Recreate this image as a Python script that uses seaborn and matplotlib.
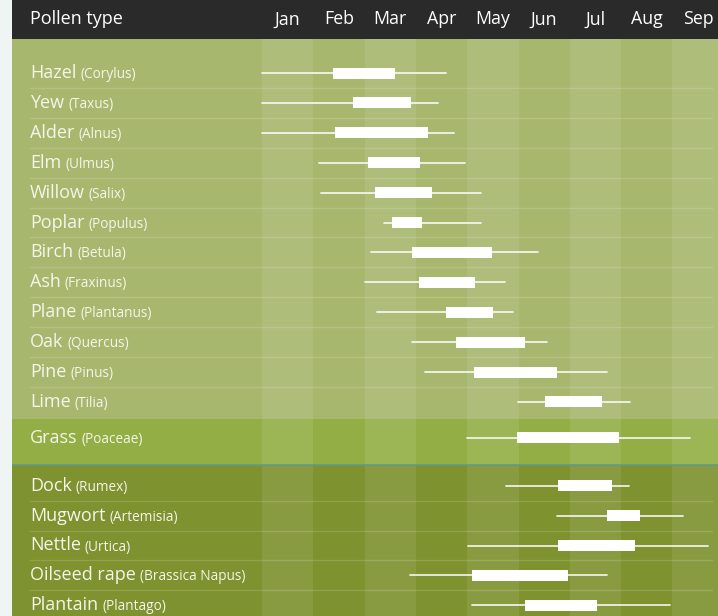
import numpy as np
import pandas as pd
import matplotlib
matplotlib.use("Agg")
import matplotlib.pyplot as plt
import seaborn as sns

sns.set_style("white")
plt.rcParams['font.family'] = ['Open Sans', 'DejaVu Sans']

# 데이터 (월 단위, 0 = 1월 시작)
months = ['Jan', 'Feb', 'Mar', 'Apr', 'May', 'Jun', 'Jul', 'Aug', 'Sep']

trees = ['Hazel', 'Yew', 'Alder', 'Elm', 'Willow', 'Poplar', 'Birch', 'Ash',
         'Plane', 'Oak', 'Pine', 'Lime']
trees_latin = ['Corylus', 'Taxus', 'Alnus', 'Ulmus', 'Salix', 'Populus', 'Betula',
               'Fraxinus', 'Plantanus', 'Quercus', 'Pinus', 'Tilia']
grasses = ['Grass']
grasses_latin = ['Poaceae']
weeds = ['Dock', 'Mugwort', 'Nettle', 'Oilseed rape', 'Plantain']
weeds_latin = ['Rumex', 'Artemisia', 'Urtica', 'Brassica Napus', 'Plantago']

# 꽃가루 시즌 (약한 시즌 시작/끝, 주요 시즌 시작/끝)
season_start = [0.00, 0.00, 0.00, 1.11, 1.15, 2.38, 2.12, 2.01, 2.24, 2.92, 3.18, 4.99,
                4.00,
                4.76, 5.75, 4.02, 2.88, 4.09]
season_end = [3.59, 3.43, 3.74, 3.96, 4.27, 4.27, 5.38, 4.74, 4.89, 5.56, 6.73, 7.17,
              8.34,
              7.15, 8.21, 8.69, 6.73, 7.95]
peak_start = [1.38, 1.77, 1.42, 2.07, 2.20, 2.53, 2.92, 3.06, 3.59, 3.78, 4.13, 5.52,
              4.97,
              5.77, 6.73, 5.77, 4.09, 5.13]
peak_end = [2.59, 2.90, 3.24, 3.08, 3.31, 3.12, 4.48, 4.15, 4.50, 5.13, 5.75, 6.63,
            6.96,
            6.82, 7.37, 7.27, 5.96, 6.53]

# 레이아웃 (픽셀 단위)
W, H = 718, 616
PX_MONTH = 51.3
X0 = 262          # 1월 시작 위치
HEADER = 39
ROW = 29.9

names = trees + grasses + weeds
latins = trees_latin + grasses_latin + weeds_latin
y_tree = 73 + ROW * np.arange(len(trees))
y_grass = y_tree[-1] + 36 + ROW * np.arange(len(grasses))
y_weed = y_grass[-1] + 48 + 29.8 * np.arange(len(weeds))
ypos = np.concatenate([y_tree, y_grass, y_weed])

df = pd.DataFrame({'name': names, 'latin': latins, 'y': ypos,
                   'ws': season_start, 'we': season_end,
                   'bs': peak_start, 'be': peak_end})

fig = plt.figure(figsize=(W / 100, H / 100), dpi=100)
fig.patch.set_facecolor('#eef5f3')
ax = fig.add_axes([12 / W, 0, 1 - 12 / W, 1])
xmin = (12 - X0) / PX_MONTH
xmax = (W - X0) / PX_MONTH

# 배경 구역
sections = [(0, HEADER, '#2a2a2a'),
            (HEADER, 419, '#a8b76e'),
            (419, 465, '#93ae45'),
            (465, H, '#7e922f')]
for top, bot, col in sections:
    ax.fill_between([xmin, xmax], top, bot, color=col, lw=0, zorder=0)

# 월 열 음영
for i in range(0, len(months), 2):
    ax.fill_between([i, i + 1], HEADER, H, color='white', alpha=0.09, lw=0, zorder=1)

ax.axhline(465, color='#5f9a8a', lw=1.2, zorder=2)

# 행 구분선
sep_x = [(30 - X0) / PX_MONTH, (712 - X0) / PX_MONTH]
for grp in [y_tree, y_weed]:
    for a, b in zip(grp[:-1], grp[1:]):
        ax.plot(sep_x, [(a + b) / 2] * 2, color='white', alpha=0.15, lw=1, zorder=2)

# 헤더 텍스트
ax.text((30 - X0) / PX_MONTH, HEADER / 2, 'Pollen type', color='white',
        fontsize=13, va='center', ha='left', zorder=5)
for i, m in enumerate(months):
    ax.text(i + 0.5, HEADER / 2, m, color='white', fontsize=12.8,
            va='center', ha='center', zorder=5)

# 약한 시즌 (선)
lines = pd.concat([
    df[['name', 'y']].assign(x=df['ws']),
    df[['name', 'y']].assign(x=df['we']),
])
sns.lineplot(data=lines, x='x', y='y', units='name', estimator=None,
             color='white', alpha=0.85, lw=1.3, sort=False, ax=ax, zorder=3,
             legend=False)

# 주요 시즌 (박스)
ax.barh(df['y'], df['be'] - df['bs'], left=df['bs'], height=11,
        color='white', lw=0, zorder=4)

ax.set_xlim(xmin, xmax)
ax.set_ylim(H, 0)
ax.axis('off')

# 라벨
fig.canvas.draw()
r = fig.canvas.get_renderer()
lx = (30 - X0) / PX_MONTH
for _, row in df.iterrows():
    t = ax.text(lx, row['y'] + 5, row['name'], color='#f4f6ea', fontsize=13,
                va='baseline', ha='left', zorder=5)
    bb = t.get_window_extent(renderer=r)
    x_end = ax.transData.inverted().transform((bb.x1 + 4, 0))[0]
    ax.text(x_end, row['y'] + 5, '(' + row['latin'] + ')', color='#f4f6ea',
            fontsize=9.8, va='baseline', ha='left', zorder=5)

fig.savefig('out.png', dpi=100)
